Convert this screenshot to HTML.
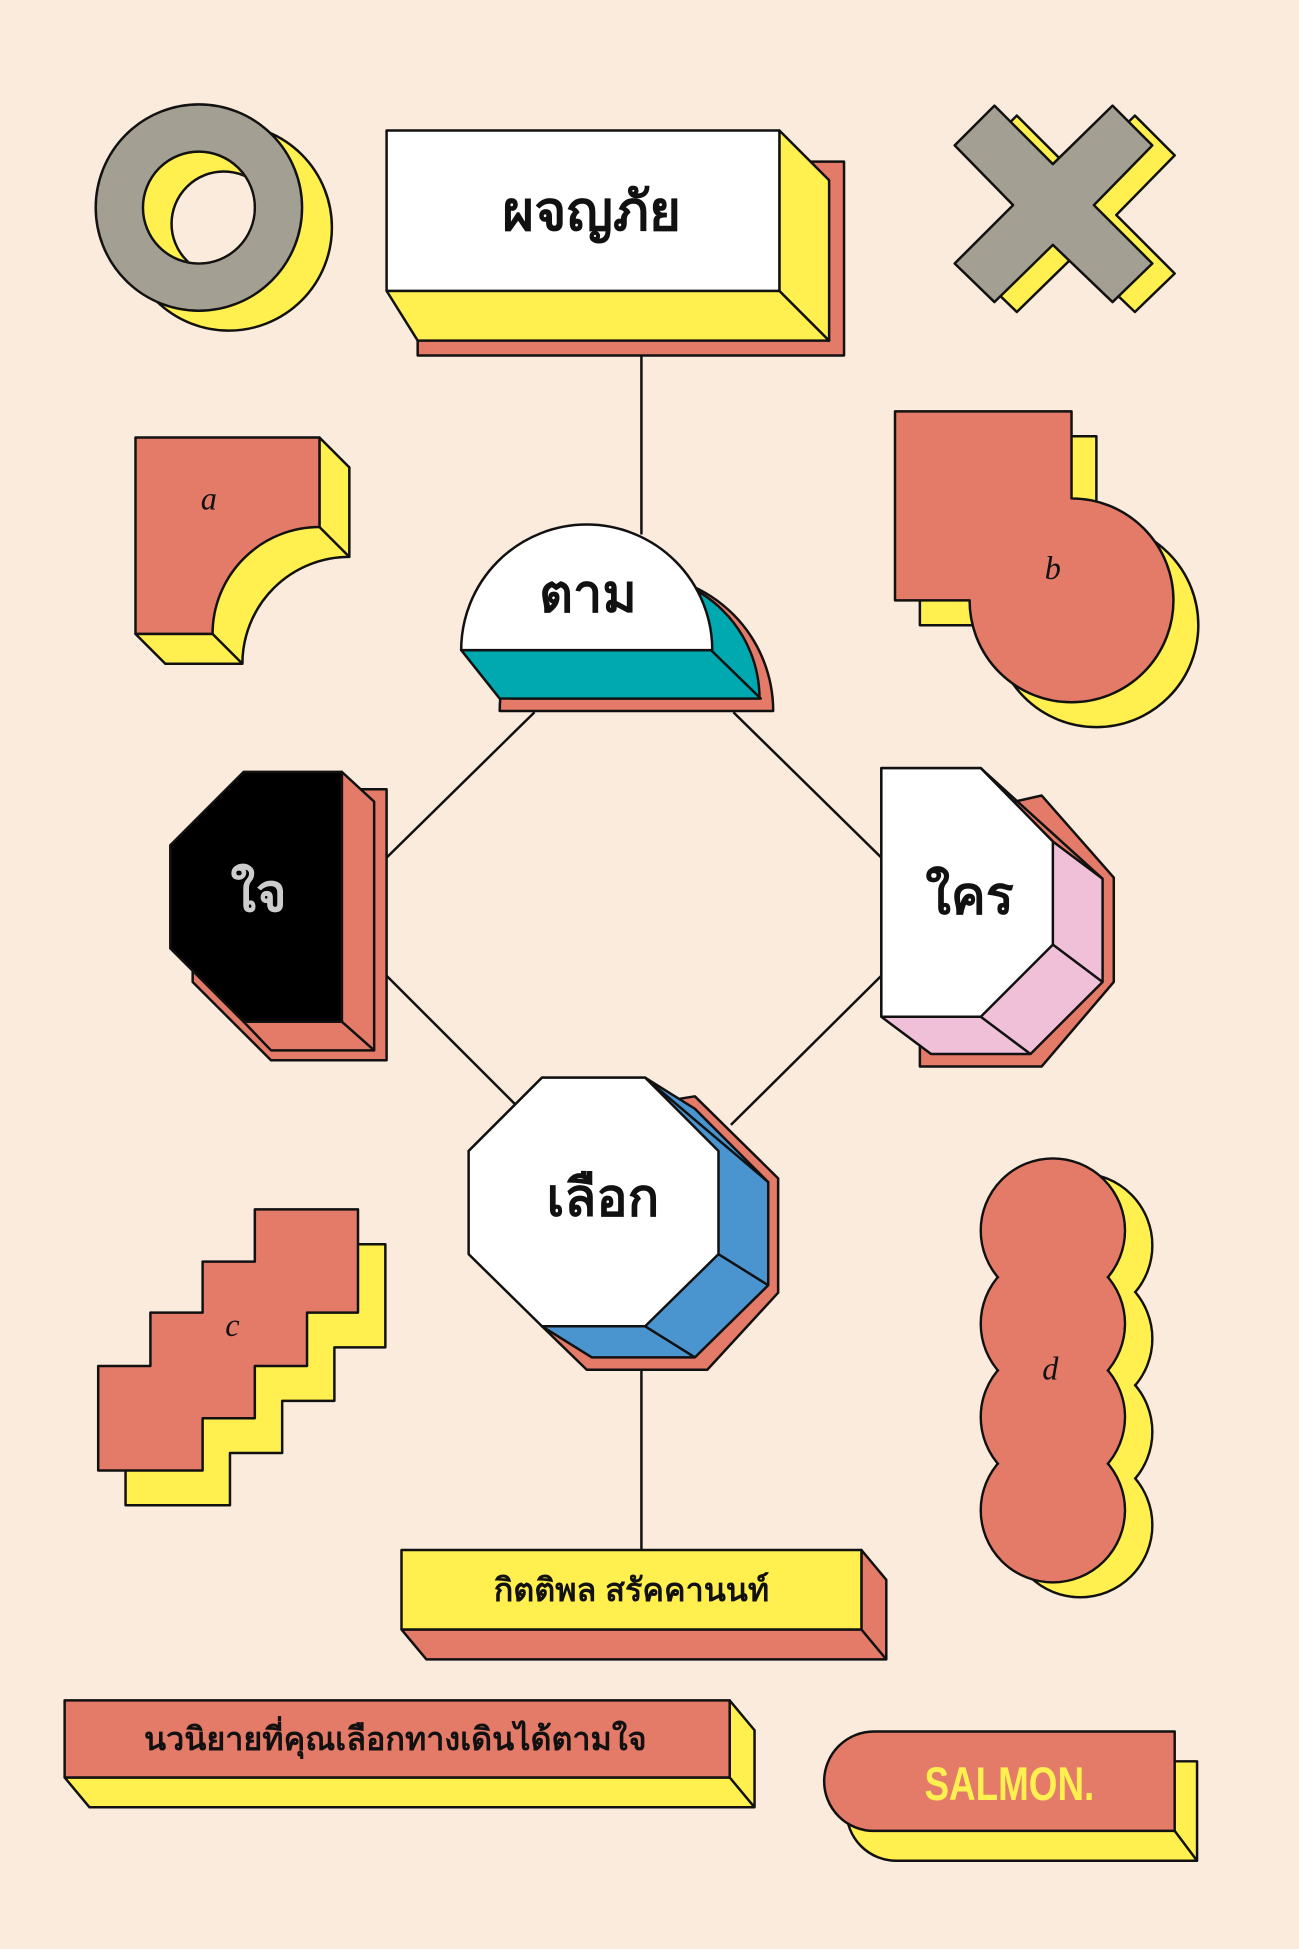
<!DOCTYPE html>
<html><head><meta charset="utf-8"><style>
html,body{margin:0;padding:0;background:#faebdc;}
svg{display:block}
</style></head><body>
<svg width="1299" height="1949" viewBox="0 0 1045 1568" preserveAspectRatio="none" xmlns="http://www.w3.org/2000/svg">
<rect width="1045" height="1568" fill="#faebdc"/>
<g stroke="#111" stroke-width="2" stroke-linejoin="round">
<line x1="516" y1="286" x2="516" y2="430"/>
<line x1="430" y1="573" x2="311" y2="690"/>
<line x1="590" y1="573" x2="709" y2="690"/>
<line x1="311" y1="785" x2="414" y2="888"/>
<line x1="709" y1="785" x2="588" y2="905"/>
<line x1="516" y1="1100" x2="516" y2="1247"/>

<circle cx="184" cy="183" r="83" fill="#fff04f"/>
<circle cx="160" cy="167" r="83" fill="#a39f93"/>
<circle cx="160" cy="167" r="45" fill="#fff04f"/>
<clipPath id="hole"><circle cx="160" cy="167" r="44"/></clipPath>
<circle cx="180" cy="180" r="42" fill="#faebdc" clip-path="url(#hole)"/>

<rect x="336" y="130" width="343" height="156" fill="#e47a68"/>
<polygon points="311,234 627,234 667,274 336,274" fill="#fff04f"/>
<polygon points="627,105 667,145 667,274 627,234" fill="#fff04f"/>
<rect x="311" y="105" width="316" height="129" fill="#fff"/>

<polygon transform="translate(18,8)" points="800,85 847,132 895,85 927,117 880,165 927,212 895,243 847,197 800,243 768,212 815,165 768,117" fill="#fff04f"/>
<polygon points="800,85 847,132 895,85 927,117 880,165 927,212 895,243 847,197 800,243 768,212 815,165 768,117" fill="#a39f93"/>

<path transform="translate(24,24)" d="M109,352 H257 V424 A86,86 0 0 0 171,510 H109 Z" fill="#fff04f"/>
<polygon points="109,510 133,534 195,534 171,510" fill="#fff04f"/>
<polygon points="257,352 281,376 281,448 257,424" fill="#fff04f"/>
<path d="M109,352 H257 V424 A86,86 0 0 0 171,510 H109 Z" fill="#e47a68"/>

<path transform="translate(20,20)" d="M720,331 H862 V401 A82,82 0 1 1 780,483 H720 Z" fill="#fff04f"/>
<path d="M720,331 H862 V401 A82,82 0 1 1 780,483 H720 Z" fill="#e47a68"/>

<path d="M402,572 A110,110 0 0 1 622,572 Z" fill="#e47a68"/>
<path d="M411,562 A100,100 0 0 1 611,562 Z" fill="#00a8b0"/>
<polygon points="371,523 572,523 612,562 402,562" fill="#00a8b0"/>
<path d="M371,523 A101,101 0 0 1 573,523 Z" fill="#fff"/>

<polygon points="155,694 214,635 311,635 311,853 218,853 155,790" fill="#e47a68"/>
<polygon points="275,621 301,645 301,845 218,845 196,822 275,822" fill="#e47a68"/>
<line x1="275" y1="822" x2="301" y2="845"/>
<polygon points="137,680 196,621 275,621 275,822 196,822 137,763" fill="#000"/>

<polygon points="758,658 838,640 896,706 896,790 838,858 740,858 740,828" fill="#e47a68"/>
<polygon points="709,618 789,618 847,677 887,707 887,790 829,848 749,848 709,818" fill="#f0c0d8"/>
<line x1="789" y1="818" x2="829" y2="848"/>
<line x1="847" y1="760" x2="887" y2="790"/>
<line x1="789" y1="618" x2="887" y2="707"/>
<polygon points="709,618 789,618 847,677 847,760 789,818 709,818" fill="#fff"/>

<polygon points="436,902 559,882 626,948 626,1040 569,1102 472,1102 436,1067" fill="#e47a68"/>
<polygon points="377,926 436,867 519,867 559,892 618,951 618,1034 559,1092 476,1092 436,1067" fill="#4a95d0"/>
<line x1="519" y1="867" x2="618" y2="951"/>
<line x1="578" y1="1009" x2="618" y2="1034"/>
<line x1="519" y1="1067" x2="559" y2="1092"/>
<polygon points="377,926 436,867 519,867 578,926 578,1009 519,1067 436,1067 377,1009" fill="#fff"/>

<polygon transform="translate(22,28)" points="79,1099 121,1099 121,1056 163,1056 163,1015 205,1015 205,973 288,973 288,1056 247,1056 247,1099 205,1099 205,1141 163,1141 163,1183 79,1183" fill="#fff04f"/>
<polygon points="79,1099 121,1099 121,1056 163,1056 163,1015 205,1015 205,973 288,973 288,1056 247,1056 247,1099 205,1099 205,1141 163,1141 163,1183 79,1183" fill="#e47a68"/>

<g fill="#fff04f" transform="translate(22,12)">
<circle cx="847" cy="990" r="58"/><circle cx="847" cy="1065" r="58"/><circle cx="847" cy="1140" r="58"/><circle cx="847" cy="1215" r="58"/>
</g>
<g fill="#fff04f" stroke="none" transform="translate(22,12)">
<circle cx="847" cy="990" r="57"/><circle cx="847" cy="1065" r="57"/><circle cx="847" cy="1140" r="57"/><circle cx="847" cy="1215" r="57"/>
</g>
<g fill="#e47a68">
<circle cx="847" cy="1215" r="58"/><circle cx="847" cy="1140" r="58"/><circle cx="847" cy="1065" r="58"/><circle cx="847" cy="990" r="58"/>
</g>
<g fill="#e47a68" stroke="none">
<circle cx="847" cy="1215" r="57"/><circle cx="847" cy="1140" r="57"/><circle cx="847" cy="1065" r="57"/><circle cx="847" cy="990" r="57"/>
</g>

<polygon points="323,1311 343,1335 713,1335 713,1271 693,1247 693,1311" fill="#e47a68"/>
<line x1="693" y1="1311" x2="713" y2="1335"/>
<rect x="323" y="1247" width="370" height="64" fill="#fff04f"/>

<polygon points="52,1430 72,1454 607,1454 607,1392 587,1368 587,1430" fill="#fff04f"/>
<line x1="587" y1="1430" x2="607" y2="1454"/>
<rect x="52" y="1368" width="535" height="62" fill="#e47a68"/>

<path transform="translate(18,24)" d="M703,1393 H945 V1473 H703 A40,40 0 0 1 703,1393 Z" fill="#fff04f"/>
<line x1="945" y1="1473" x2="963" y2="1497"/>
<path d="M703,1393 H945 V1473 H703 A40,40 0 0 1 703,1393 Z" fill="#e47a68"/>
</g>

<g font-family="'Liberation Sans','Noto Sans CJK SC',sans-serif" text-anchor="middle" fill="#111" font-weight="bold">
<text x="476" y="185" font-size="44">ผจญภัย</text>
<text x="473" y="492" font-size="42">ตาม</text>
<text x="208" y="733" font-size="42" fill="#ccc">ใจ</text>
<text x="780" y="735" font-size="42">ใคร</text>
<text x="485" y="978" font-size="42">เลือก</text>
<text x="508" y="1288" font-size="26">กิตติพล สรัคคานนท์</text>
<text x="318" y="1408" font-size="26">นวนิยายที่คุณเลือกทางเดินได้ตามใจ</text>
<text transform="translate(812,1448) scale(0.78,1)" x="0" y="0" font-size="38" fill="#fff04f">SALMON.</text>
</g>
<g font-family="'Liberation Serif',serif" font-style="italic" font-size="26" text-anchor="middle" fill="#111">
<text x="168" y="410">a</text>
<text x="847" y="466">b</text>
<text x="187" y="1075">c</text>
<text x="845" y="1110">d</text>
</g>
</svg>
</body></html>
